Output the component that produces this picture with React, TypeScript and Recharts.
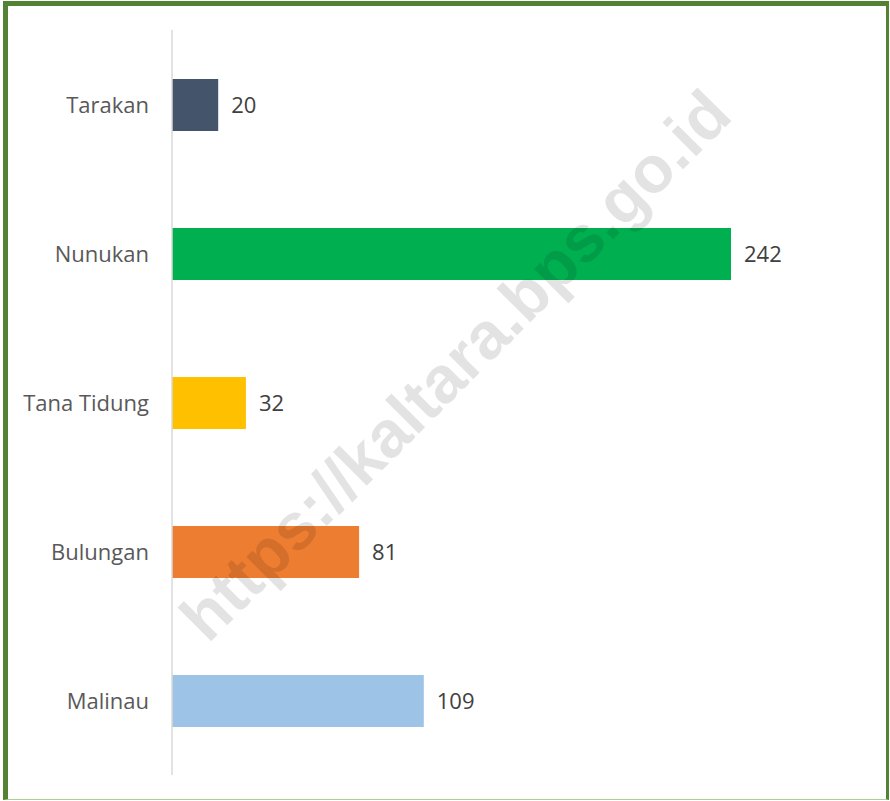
import React from 'react';
import { BarChart, Bar, XAxis, YAxis, Cell, LabelList } from 'recharts';

const categories = ['Tarakan', 'Nunukan', 'Tana Tidung', 'Bulungan', 'Malinau'];
const values = [20, 242, 32, 81, 109];
const barColors = ['#44546a', '#00b050', '#ffc000', '#ed7d31', '#9dc3e6'];
const xDomain = [0, 300];
const watermark = 'https://kaltara.bps.go.id';

const data = categories.map((name, i) => ({ name, value: values[i] }));

const App: React.FC = () => {
  return (
    <div style={{ position: 'absolute', left: 0, top: 0, width: 890, height: 801, background: '#fff', fontFamily: '"Open Sans", sans-serif' }}>
      <div
        style={{
          position: 'absolute',
          left: 3,
          top: 1,
          width: 886,
          height: 799,
          boxSizing: 'border-box',
          borderTop: '5px solid #548235',
          borderLeft: '5px solid #548235',
          borderRight: '3px solid #548235',
          borderBottom: '1px solid #a9d08e',
        }}
      />
      <div style={{ position: 'absolute', left: 0, top: 0 }}>
        <BarChart
          width={890}
          height={801}
          data={data}
          layout="vertical"
          margin={{ top: 30, right: 25, bottom: 26, left: 0 }}
        >
          <XAxis type="number" domain={xDomain} hide />
          <YAxis
            type="category"
            dataKey="name"
            width={172}
            axisLine={{ stroke: '#d9d9d9', strokeWidth: 1.5 }}
            tickLine={false}
            tickSize={0}
            tickMargin={23}
            tick={{ fill: '#595959', fontSize: 22, fontFamily: '"Open Sans", sans-serif', dy: 1 }}
          />
          <Bar dataKey="value" barSize={52} isAnimationActive={false}>
            {data.map((d, i) => (
              <Cell key={d.name} fill={barColors[i]} />
            ))}
            <LabelList
              dataKey="value"
              position="right"
              offset={13}
              style={{ fill: '#404040', fontSize: 22, fontFamily: '"Open Sans", sans-serif' }}
            />
          </Bar>
        </BarChart>
      </div>
      <svg width={890} height={801} style={{ position: 'absolute', left: 0, top: 0, pointerEvents: 'none' }}>
        <text
          x={455}
          y={365}
          textAnchor="middle"
          dominantBaseline="central"
          transform="rotate(-45 455 365)"
          fill="rgba(0,0,0,0.11)"
          fontSize={66}
          fontWeight="bold"
          fontFamily='"Liberation Sans", Arial, sans-serif'
        >
          {watermark}
        </text>
      </svg>
    </div>
  );
};

export default App;
